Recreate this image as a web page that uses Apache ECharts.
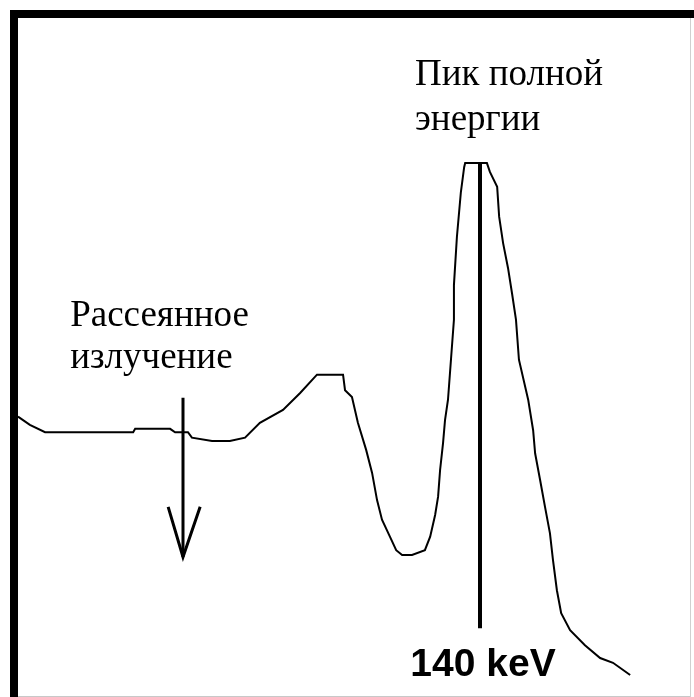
<!DOCTYPE html>
<html>
<head>
<meta charset="utf-8">
<script src="https://cdn.jsdelivr.net/npm/echarts@6/dist/echarts.min.js"></script>
<style>
  html, body { margin: 0; padding: 0; background: #fff; }
  #chart { width: 694px; height: 697px; }
</style>
</head>
<body>
<div id="chart"></div>
<script>
// Tc-99m gamma spectrum: energy (keV) vs relative counts
const energyKeV = [
  0, 3.6, 8.2, 34.9, 35.5, 46.1, 47.6, 51.5, 52.7, 58.8, 64.2, 68.8,
  73.3, 80.3, 85.5, 90.6, 98.5, 99.1, 101.2, 103.0, 105.5, 107.3, 108.8,
  110.3, 112.7, 114.6, 116.4, 119.4, 123.3, 124.9, 126.4, 127.3, 127.9,
  128.8, 129.4, 130.3, 131.2, 132.1, 132.1, 133.0, 134.2, 135.2, 135.5,
  142.1, 143.0, 145.2, 145.8, 147.0, 148.5, 149.7, 150.9, 151.8, 154.6,
  156.1, 156.7, 158.2, 159.7, 161.2, 162.1, 163.3, 164.6, 167.3, 171.8,
  176.4, 180.3, 185.5
];
const counts = [
  41.2, 40.0, 38.9, 38.9, 39.4, 39.4, 38.9, 38.9, 38.1, 37.6, 37.6, 38.1,
  40.3, 42.2, 44.7, 47.4, 47.4, 45.1, 44.1, 40.3, 36.3, 32.9, 28.9,
  26.0, 23.5, 21.5, 20.8, 20.8, 21.5, 23.5, 26.7, 29.4, 33.3,
  37.3, 40.7, 43.7, 49.6, 55.5, 60.6, 67.7, 74.3, 78.0, 78.6,
  78.6, 77.3, 75.1, 70.7, 66.8, 63.1, 59.4, 55.5, 49.6, 43.7,
  39.2, 35.8, 31.9, 27.9, 24.0, 20.1, 15.6, 12.2, 9.7, 7.5,
  5.6, 4.9, 3.1
];

// Photopeak marker at 140 keV
const peakEnergy = 140;
const peakTop = 78.6;
const peakBottom = 10.0;

// Arrow pointing at the scattered-radiation region (50 keV)
const scatterEnergy = 50;
const arrowTop = 44.0;
const arrowTip = 20.5;
const arrowHeadSpread = [45.5, 55.2];
const arrowHeadLevel = 27.9;

const peakLabel = 'Пик полной\nэнергии';
const scatterLabel = 'Рассеянное\nизлучение';
const energyLabel = peakEnergy + ' keV';

const spectrum = energyKeV.map((e, i) => [e, counts[i]]);
const peakLine = [[peakEnergy, peakTop], [peakEnergy, peakBottom]];
const arrowShaft = [[scatterEnergy, arrowTop], [scatterEnergy, arrowTip]];
const arrowHead = [
  [arrowHeadSpread[0], arrowHeadLevel],
  [scatterEnergy, arrowTip],
  [arrowHeadSpread[1], arrowHeadLevel]
];

const chart = echarts.init(document.getElementById('chart'), null, { renderer: 'canvas' });

const plainLine = (data, width, z) => ({
  type: 'line',
  data: data,
  showSymbol: false,
  symbol: 'none',
  silent: true,
  z: z,
  lineStyle: { color: '#000', width: width, join: 'miter', cap: 'butt' }
});

chart.setOption({
  animation: false,
  backgroundColor: '#fff',
  grid: { left: 18, right: 16, top: 18, bottom: 1 },
  xAxis: { type: 'value', min: 0, max: 200, show: false },
  yAxis: { type: 'value', min: 0, max: 100, show: false },
  series: [
    plainLine(spectrum, 2, 3),
    plainLine(peakLine, 4, 4),
    plainLine(arrowShaft, 3, 4),
    plainLine(arrowHead, 3, 4)
  ]
});

// Annotations placed through the grid's coordinate system
const toPx = p => chart.convertToPixel({ gridIndex: 0 }, p);
const peakAnchor = toPx([120.3, 94.8]);
const scatterAnchor = toPx([15.8, 59.1]);
const peakFoot = toPx([peakEnergy, peakBottom]);

chart.setOption({
  graphic: [
    // frame: heavy top and left rules, light right and bottom rules
    { type: 'rect', shape: { x: 10, y: 10, width: 684, height: 8 }, style: { fill: '#000' }, z: 10 },
    { type: 'rect', shape: { x: 10, y: 10, width: 8, height: 687 }, style: { fill: '#000' }, z: 10 },
    { type: 'rect', shape: { x: 690, y: 18, width: 1, height: 679 }, style: { fill: '#d0d0d0' }, z: 10 },
    { type: 'rect', shape: { x: 18, y: 696, width: 672, height: 1 }, style: { fill: '#c8c8c8' }, z: 10 },
    {
      type: 'text', x: peakAnchor[0], y: peakAnchor[1], z: 10,
      style: {
        text: peakLabel, fill: '#000', font: '37px "Liberation Serif"',
        lineHeight: 45, align: 'left', verticalAlign: 'top'
      }
    },
    {
      type: 'text', x: scatterAnchor[0], y: scatterAnchor[1], z: 10,
      style: {
        text: scatterLabel, fill: '#000', font: '37px "Liberation Serif"',
        lineHeight: 42, align: 'left', verticalAlign: 'top'
      }
    },
    {
      type: 'text', x: peakFoot[0] + 3, y: peakFoot[1] + 18, z: 10,
      style: {
        text: energyLabel, fill: '#000', font: 'bold 39px "Liberation Sans"',
        lineHeight: 39, align: 'center', verticalAlign: 'top'
      }
    }
  ]
});
</script>
</body>
</html>
